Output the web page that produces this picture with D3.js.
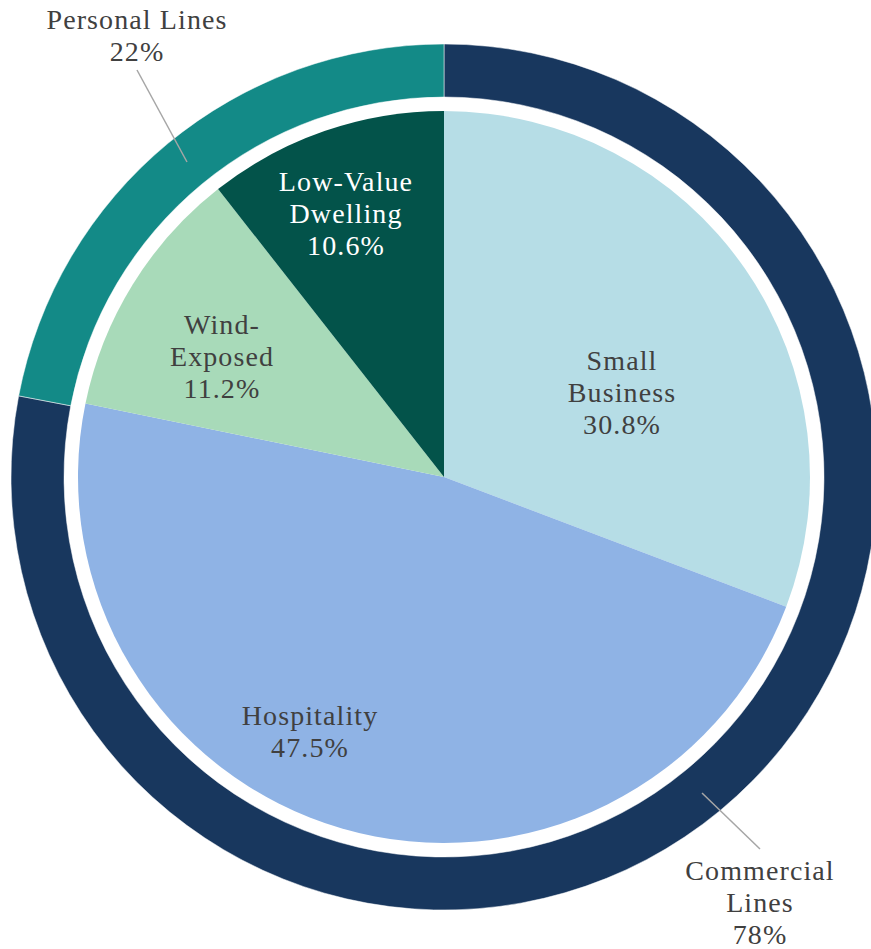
<!DOCTYPE html>
<html>
<head>
<meta charset="utf-8">
<script src="https://cdn.jsdelivr.net/npm/d3@7"></script>
<style>
  body { margin: 0; background: #fff; }
  #wrap { position: relative; width: 871px; height: 949px; }
  #chart { position: absolute; left: 0; top: 0; }
  .lbl {
    position: absolute;
    transform: translateX(-50%);
    text-align: center;
    white-space: nowrap;
    font-family: "Liberation Serif", serif;
    font-size: 28px;
    line-height: 32px;
    letter-spacing: 1.1px;
  }
</style>
</head>
<body>
<div id="wrap">
<svg id="chart" width="871" height="949"></svg>
</div>
<script>
// outer ring: line of business
const outerNames = ["Commercial Lines", "Personal Lines"];
const outerValues = [78, 22];
const outerLabels = ["78%", "22%"];
const outerColors = ["#18375e", "#138a87"];

// inner pie: segments
const innerNames = ["Small Business", "Hospitality", "Wind-Exposed", "Low-Value Dwelling"];
const innerValues = [30.8, 47.5, 11.2, 10.6];
const innerColors = ["#b6dde6", "#8fb3e5", "#a8dab9", "#03534a"];

const cx = 444, cy = 477;
const svg = d3.select("#chart");
const g = svg.append("g").attr("transform", `translate(${cx},${cy})`);

const pie = d3.pie().sort(null).value(d => d);

// outer ring
const outerArc = d3.arc().innerRadius(380).outerRadius(433);
g.selectAll("path.outer")
  .data(pie(outerValues))
  .enter()
  .append("path")
  .attr("class", "outer")
  .attr("d", outerArc)
  .attr("fill", (d, i) => outerColors[i])
  .attr("stroke", "#fff")
  .attr("stroke-width", 0.5);

// inner pie
const innerArc = d3.arc().innerRadius(0).outerRadius(366);
g.selectAll("path.inner")
  .data(pie(innerValues))
  .enter()
  .append("path")
  .attr("class", "inner")
  .attr("d", innerArc)
  .attr("fill", (d, i) => innerColors[i]);

// label lines for the inner pie (text split by hand like the original)
const innerText = [
  ["Small", "Business", innerValues[0] + "%"],
  ["Hospitality", innerValues[1] + "%"],
  ["Wind-", "Exposed", innerValues[2] + "%"],
  ["Low-Value", "Dwelling", innerValues[3] + "%"]
];
// label centres relative to the pie centre
const innerLabelPos = [[178, -84], [-134, 255], [-222, -120], [-98, -263]];
const innerTextColors = ["#404040", "#404040", "#404040", "#ffffff"];

const lineH = 32;
const wrap = d3.select("#wrap");

// labels are html so the serif font is used
function addLabel(lines, pos, color) {
  const d = wrap.append("div")
    .attr("class", "lbl")
    .style("left", (cx + pos[0]) + "px")
    .style("top", (cy + pos[1] - lines.length * lineH / 2) + "px")
    .style("color", color);
  lines.forEach((s, j) => {
    if (j > 0) d.append("br");
    d.append("span").text(s);
  });
}

innerText.forEach((lines, i) => addLabel(lines, innerLabelPos[i], innerTextColors[i]));

// outer labels with leader lines
const outerText = [
  ["Commercial", "Lines", outerLabels[0]],
  ["Personal Lines", outerLabels[1]]
];
const outerLabelPos = [[316, 426], [-307, -441]];
const leaders = [
  [[258, 316], [316, 372]],
  [[-257, -315], [-307, -407]]
];

leaders.forEach(l => {
  g.append("line")
    .attr("x1", l[0][0]).attr("y1", l[0][1])
    .attr("x2", l[1][0]).attr("y2", l[1][1])
    .attr("stroke", "#a6a6a6")
    .attr("stroke-width", 1.5);
});

outerText.forEach((lines, i) => addLabel(lines, outerLabelPos[i], "#404040"));
</script>
</body>
</html>
